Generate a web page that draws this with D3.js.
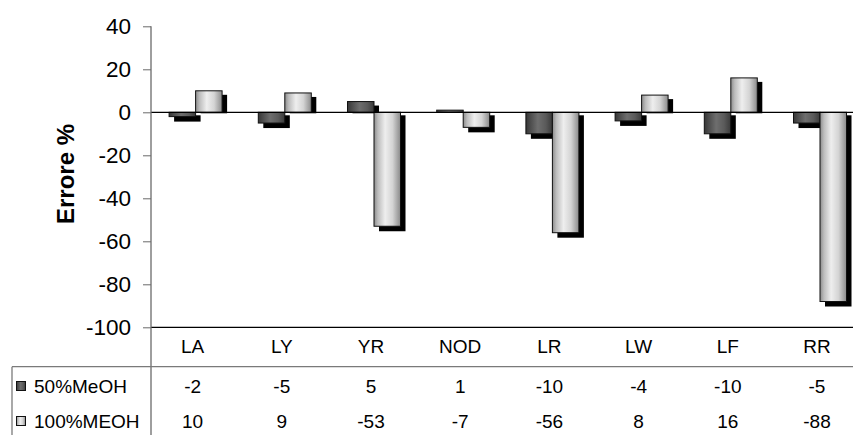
<!DOCTYPE html>
<html>
<head>
<meta charset="utf-8">
<script src="https://cdn.jsdelivr.net/npm/d3@7"></script>
<style>
  html, body { margin: 0; padding: 0; background: #fff; }
  svg { display: block; font-family: "Liberation Sans", Arial, sans-serif; }
</style>
</head>
<body>
<svg id="chart" width="853" height="435"></svg>
<script>
// Data
const categories = ["LA", "LY", "YR", "NOD", "LR", "LW", "LF", "RR"];
const seriesNames = ["50%MeOH", "100%MEOH"];
const meoh50 = [-2, -5, 5, 1, -10, -4, -10, -5];
const meoh100 = [10, 9, -53, -7, -56, 8, 16, -88];
const yTicks = [40, 20, 0, -20, -40, -60, -80, -100];
const seriesValues = [meoh50, meoh100];

const svg = d3.select("#chart");
const W = 853, H = 435;

// Plot geometry
const axisX = 151;
const step = 89.2;
const y = d3.scaleLinear().domain([-100, 40]).range([327.3, 26.3]);
const x0 = d3.scaleBand().domain(categories)
  .range([axisX, axisX + step * categories.length]).padding(0);
const x1 = d3.scaleBand().domain(seriesNames)
  .range([0, x0.bandwidth()]).paddingInner(0).paddingOuter(0.683);

// Gradients for the bars
const defs = svg.append("defs");
function grad(id, stops) {
  const g = defs.append("linearGradient").attr("id", id)
    .attr("x1", "0%").attr("x2", "100%").attr("y1", "0%").attr("y2", "0%");
  stops.forEach(([o, c]) => g.append("stop").attr("offset", o).attr("stop-color", c));
}
grad("gDark", [[0, "#363636"], [0.15, "#4a4a4a"], [0.45, "#6e6e6e"], [0.75, "#5a5a5a"], [1, "#3a3a3a"]]);
grad("gLight", [[0, "#8c8c8c"], [0.15, "#bdbdbd"], [0.42, "#eeeeee"], [0.7, "#d4d4d4"], [1, "#8a8a8a"]]);
const fills = ["url(#gDark)", "url(#gLight)"];

// Y axis ticks and labels (plain hyphen for negatives)
const yAxis = d3.axisLeft(y).tickValues(yTicks).tickSize(8).tickPadding(12).tickFormat(d => String(d));
const yg = svg.append("g").attr("transform", `translate(${axisX},0)`).call(yAxis);
yg.select(".domain").remove();
yg.selectAll(".tick line").attr("stroke", "#6a6a6a");
yg.selectAll(".tick text")
  .attr("font-size", 22.5).attr("fill", "#000")
  .attr("font-family", "Liberation Sans, Arial, sans-serif");

// Bars with drop shadows
const groups = svg.append("g").selectAll("g")
  .data(categories).join("g")
  .attr("transform", d => `translate(${x0(d)},0)`);

const barData = (c, ci) => seriesNames.map((s, si) => ({ s, si, v: seriesValues[si][ci] }));

const y0 = y(0);
groups.each(function (c, ci) {
  const g = d3.select(this);
  const data = barData(c, ci);
  // shadows first
  g.selectAll("rect.shadow").data(data).join("rect").attr("class", "shadow")
    .attr("x", d => x1(d.s) + 5)
    .attr("y", d => d.v >= 0 ? y(d.v) + 4 : y0 + 3)
    .attr("width", x1.bandwidth())
    .attr("height", d => d.v >= 0 ? Math.max(0, y0 + 1 - (y(d.v) + 4)) : y(d.v) + 5 - (y0 + 3))
    .attr("fill", "#000");
});
groups.each(function (c, ci) {
  const g = d3.select(this);
  const data = barData(c, ci);
  g.selectAll("rect.bar").data(data).join("rect").attr("class", "bar")
    .attr("x", d => x1(d.s))
    .attr("y", d => Math.min(y(d.v), y0))
    .attr("width", x1.bandwidth())
    .attr("height", d => Math.abs(y(d.v) - y0))
    .attr("fill", d => fills[d.si])
    .attr("stroke", "#111").attr("stroke-width", 1);
});

// Zero line, plot bottom, vertical axis
svg.append("line").attr("x1", axisX).attr("x2", W).attr("y1", y0).attr("y2", y0)
  .attr("stroke", "#000").attr("stroke-width", 1.2);
svg.append("line").attr("x1", axisX).attr("x2", W).attr("y1", y(-100)).attr("y2", y(-100))
  .attr("stroke", "#000").attr("stroke-width", 1.3);
svg.append("line").attr("x1", axisX).attr("x2", axisX).attr("y1", y(40)).attr("y2", H)
  .attr("stroke", "#6a6a6a").attr("stroke-width", 1.3);

// Y axis title
svg.append("text")
  .attr("transform", "translate(74,174) rotate(-90)")
  .attr("text-anchor", "middle")
  .attr("font-size", 24).attr("font-weight", "bold")
  .text("Errore %");

// Data table
const rowHeader = 346, row1 = 386, row2 = 421, tableTop = 366.7, tableLeft = 12;
svg.append("line").attr("x1", tableLeft).attr("x2", W).attr("y1", tableTop).attr("y2", tableTop)
  .attr("stroke", "#7a7a7a").attr("stroke-width", 1.3);
svg.append("line").attr("x1", tableLeft).attr("x2", tableLeft).attr("y1", tableTop).attr("y2", H)
  .attr("stroke", "#7a7a7a").attr("stroke-width", 1.3);

const cx = c => x0(c) + x0.bandwidth() / 2 - 3;
svg.append("g").selectAll("text").data(categories).join("text")
  .attr("x", cx).attr("y", rowHeader).attr("dy", "0.35em")
  .attr("text-anchor", "middle").attr("font-size", 19).text(d => d);

[row1, row2].forEach((ry, si) => {
  svg.append("g").selectAll("text").data(categories).join("text")
    .attr("x", cx).attr("y", ry).attr("dy", "0.35em")
    .attr("text-anchor", "middle").attr("font-size", 19)
    .text((c, ci) => seriesValues[si][ci]);
  // legend key
  svg.append("rect").attr("x", 16.5).attr("y", ry - 4.5).attr("width", 9).attr("height", 9)
    .attr("fill", fills[si]).attr("stroke", "#111").attr("stroke-width", 1);
  svg.append("text").attr("x", 34).attr("y", ry).attr("dy", "0.35em")
    .attr("font-size", 19).text(seriesNames[si]);
});
</script>
</body>
</html>
